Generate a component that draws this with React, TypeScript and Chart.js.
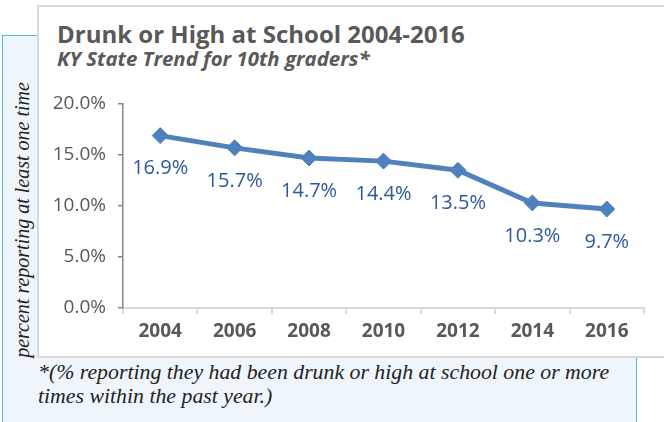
import React, { useEffect, useRef } from "react";
import { Chart, registerables } from "chart.js";

Chart.register(...registerables);

const years = ["2004", "2006", "2008", "2010", "2012", "2014", "2016"];
const values = [16.9, 15.7, 14.7, 14.4, 13.5, 10.3, 9.7];
const yMin = 0;
const yMax = 20;
const yStep = 5;

const titleText = "Drunk or High at School 2004-2016";
const subtitleText = "KY State Trend for 10th graders*";
const yTitleText = "percent reporting at least one time";
const footLine1 = "*(% reporting they had been drunk or high at school one or more";
const footLine2 = "times within the past year.)";

const valueLabelPlugin = {
  id: "valueLabels",
  afterDatasetsDraw(chart: any) {
    const ctx = chart.ctx;
    const meta = chart.getDatasetMeta(0);
    const data = chart.data.datasets[0].data as number[];
    ctx.save();
    ctx.font = "20px 'Open Sans'";
    ctx.fillStyle = "#2F5A98";
    ctx.textAlign = "center";
    ctx.textBaseline = "middle";
    meta.data.forEach((pt: any, i: number) => {
      ctx.fillText(data[i].toFixed(1) + "%", pt.x, pt.y + 33);
    });
    ctx.restore();
  },
};

export default function App() {
  const ref = useRef<HTMLCanvasElement | null>(null);

  useEffect(() => {
    if (!ref.current) return;
    const chart = new Chart(ref.current, {
      type: "line",
      data: {
        labels: years,
        datasets: [
          {
            data: values,
            borderColor: "#4F81BD",
            backgroundColor: "#4F81BD",
            borderWidth: 5,
            pointStyle: "rectRot",
            pointRadius: 8,
            pointHoverRadius: 8,
            pointBackgroundColor: "#4F81BD",
            pointBorderColor: "#4F81BD",
            pointBorderWidth: 1,
            tension: 0,
          },
        ],
      },
      options: {
        responsive: false,
        animation: false,
        devicePixelRatio: 1,
        layout: { padding: { left: 11, right: 20, top: 104, bottom: 0 } },
        plugins: {
          legend: { display: false },
          tooltip: { enabled: false },
          title: { display: false },
        },
        scales: {
          x: {
            offset: true,
            afterFit: (s: any) => {
              s.height = 52;
            },
            grid: {
              display: true,
              drawOnChartArea: false,
              drawTicks: true,
              tickLength: 6,
              color: "#D9D9D9",
              lineWidth: 2,
              offset: true,
            },
            border: { display: true, color: "#D9D9D9", width: 2 },
            ticks: {
              color: "#595959",
              font: { family: "'Open Sans'", size: 19, weight: "bold" },
              padding: 6,
              maxRotation: 0,
            },
          },
          y: {
            min: yMin,
            max: yMax,
            afterFit: (s: any) => {
              s.width = 112;
            },
            grid: {
              display: true,
              drawOnChartArea: false,
              drawTicks: true,
              tickLength: 5,
              color: "#868686",
              lineWidth: 1.5,
            },
            border: { display: true, color: "#868686", width: 1.5 },
            ticks: {
              stepSize: yStep,
              color: "#595959",
              font: { family: "'Open Sans'", size: 19 },
              padding: 12,
              callback: (v: any) => Number(v).toFixed(1) + "%",
            },
          },
        },
      },
      plugins: [valueLabelPlugin],
    });
    return () => chart.destroy();
  }, []);

  return (
    <div
      style={{
        position: "absolute",
        left: 0,
        top: 0,
        width: 664,
        height: 422,
        overflow: "hidden",
        background: "#ffffff",
      }}
    >
      <div
        style={{
          position: "absolute",
          left: 2,
          top: 35,
          width: 635,
          height: 500,
          boxSizing: "border-box",
          border: "1px solid #4DBCEB",
          background: "#EEF6FC",
        }}
      />
      <div
        style={{
          position: "absolute",
          left: 37,
          top: 5,
          width: 700,
          height: 353,
          boxSizing: "border-box",
          border: "2px solid #D9D9D9",
          background: "#ffffff",
        }}
      />
      <div
        style={{
          position: "absolute",
          left: 57,
          top: 20,
          lineHeight: "28px",
          fontFamily: "'Open Sans'",
          fontWeight: "bold",
          fontSize: 24,
          color: "#595959",
          whiteSpace: "nowrap",
        }}
      >
        {titleText}
      </div>
      <div
        style={{
          position: "absolute",
          left: 57,
          top: 47,
          lineHeight: "22px",
          fontFamily: "'Open Sans'",
          fontWeight: "bold",
          fontStyle: "italic",
          fontSize: 20.4,
          color: "#595959",
          whiteSpace: "nowrap",
        }}
      >
        {subtitleText}
      </div>
      <div
        style={{
          position: "absolute",
          left: 22 - 160,
          top: 220 - 12,
          width: 320,
          height: 24,
          lineHeight: "24px",
          textAlign: "center",
          transform: "rotate(-90deg)",
          fontFamily: "'Liberation Serif'",
          fontStyle: "italic",
          fontSize: 20,
          color: "#222222",
          whiteSpace: "nowrap",
        }}
      >
        {yTitleText}
      </div>
      <canvas
        ref={ref}
        width={664}
        height={360}
        style={{ position: "absolute", left: 0, top: 0, width: 664, height: 360 }}
      />
      <div
        style={{
          position: "absolute",
          left: 38,
          top: 360,
          lineHeight: "24px",
          fontFamily: "'Liberation Serif'",
          fontStyle: "italic",
          fontSize: 21.8,
          color: "#222222",
          whiteSpace: "nowrap",
        }}
      >
        <div>{footLine1}</div>
        <div>{footLine2}</div>
      </div>
    </div>
  );
}
